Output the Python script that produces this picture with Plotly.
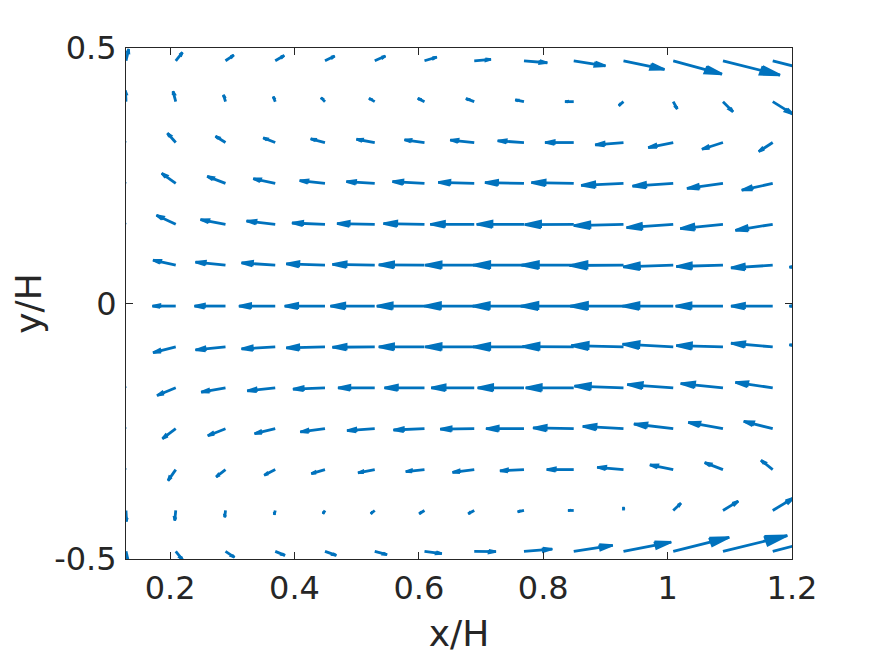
import plotly.graph_objects as go

# grid of the vector field (x/H columns, y/H rows from top to bottom)
x_cols = [0.129, 0.209, 0.289, 0.369, 0.449, 0.529, 0.609, 0.689,
          0.769, 0.849, 0.929, 1.009, 1.089, 1.169, 1.249]
y_rows = [0.475, 0.395, 0.315, 0.235, 0.155, 0.075, -0.005,
          -0.085, -0.165, -0.245, -0.325, -0.405, -0.485]

# horizontal velocity component, one list per row (top -> bottom)
U = [
    [2.7, 6.7, 8.3, 9.0, 9.7, 10.7, 12.3, 16.7, 23.3, 31.7, 41.0, 48.7, 57.0, 58.0, 55.0],
    [-0.5, -2.7, -2.0, -2.0, -4.0, -5.7, -6.7, -8.3, -8.7, -8.7, -4.7, 4.0, 10.0, 20.0, 20.0],
    [-1.0, -8.3, -10.0, -12.0, -14.3, -18.3, -20.0, -24.0, -26.3, -28.7, -28.3, -25.0, -21.0, -14.0, -5.0],
    [-1.0, -14.0, -18.3, -22.0, -25.3, -28.3, -32.0, -36.0, -39.0, -42.3, -42.3, -40.7, -36.0, -31.0, -25.0],
    [-1.0, -19.3, -25.0, -28.7, -33.0, -37.7, -41.0, -44.0, -47.3, -49.0, -49.7, -46.7, -42.7, -37.3, -29.0],
    [0.0, -22.7, -30.0, -33.7, -38.7, -42.3, -45.7, -49.0, -50.7, -52.3, -54.0, -50.0, -46.7, -41.7, -33.0],
    [0.0, -23.3, -31.0, -36.3, -40.3, -44.3, -47.7, -50.0, -51.3, -53.0, -53.3, -50.7, -47.3, -41.7, -33.0],
    [0.0, -22.7, -30.0, -33.7, -38.7, -42.3, -45.7, -49.0, -50.7, -51.3, -52.3, -50.7, -46.7, -41.7, -33.0],
    [-1.0, -18.7, -24.3, -28.0, -32.0, -36.7, -40.0, -43.0, -46.3, -48.0, -49.0, -46.0, -42.3, -37.3, -29.0],
    [-1.0, -13.3, -17.7, -20.7, -24.7, -27.7, -31.0, -34.0, -38.0, -40.7, -40.7, -39.3, -34.7, -29.0, -25.0],
    [-1.0, -7.7, -9.3, -11.0, -13.7, -16.7, -18.7, -21.7, -24.0, -27.0, -26.3, -23.3, -18.3, -11.7, -5.0],
    [0.5, -1.0, -0.7, -1.0, -2.0, -4.0, -5.3, -6.0, -6.3, -5.7, 0.0, 7.7, 15.3, 21.0, 20.0],
    [2.7, 6.7, 9.0, 9.7, 11.3, 12.3, 17.3, 21.7, 28.3, 39.0, 47.7, 56.0, 64.3, 62.0, 55.0],
]

# vertical velocity component, one list per row (top -> bottom)
V = [
    [14.2, 10.1, 6.9, 6.5, 5.7, 5.7, 4.5, 1.6, -2.4, -6.1, -10.6, -16.2, -17.4, -18.3, -17.0],
    [13.4, 12.5, 8.2, 6.1, 4.9, 4.0, 4.0, 3.7, 2.1, 0.0, -4.9, -8.9, -12.2, -15.0, -14.6],
    [0.0, 11.3, 7.7, 5.7, 4.5, 4.0, 3.3, 3.0, 2.1, 0.0, -2.8, -6.1, -8.2, -11.0, -9.7],
    [0.0, 12.2, 8.5, 5.7, 3.3, 2.1, 2.1, 1.2, 0.9, 0.9, -2.4, -3.3, -6.1, -8.2, -6.1],
    [0.0, 11.0, 5.7, 4.0, 1.6, 0.9, 0.9, 0.0, 0.0, -0.4, -1.6, -4.0, -5.2, -7.3, -4.9],
    [0.0, 6.1, 3.7, 2.8, 1.6, 0.9, 0.4, 0.0, 0.0, 0.0, -0.4, -2.1, -1.6, -3.3, -2.4],
    [0.0, 0.0, 0.0, 0.0, 0.0, 0.0, 0.0, 0.0, 0.0, 0.0, 0.0, 0.0, 0.0, 0.0, 0.0],
    [0.0, -6.9, -3.7, -2.4, -1.2, -0.4, 0.0, 0.0, 0.0, 0.4, 1.6, 3.3, 1.6, 4.5, 2.4],
    [0.0, -9.4, -5.2, -3.7, -1.6, 0.0, 0.0, 0.0, 0.0, 0.0, 2.1, 4.0, 5.2, 6.5, 4.9],
    [0.0, -12.2, -8.5, -6.1, -4.0, -2.4, -1.6, -0.6, 0.0, 0.9, 2.8, 5.7, 7.7, 8.9, 6.1],
    [0.0, -13.4, -8.9, -6.9, -4.9, -4.0, -2.4, -3.3, -1.6, 0.0, 2.8, 5.7, 8.5, 11.3, 9.7],
    [-13.4, -12.2, -8.2, -5.2, -4.0, -4.0, -4.0, -4.0, -1.6, 0.0, 4.0, 8.9, 11.3, 15.2, 14.6],
    [-14.2, -10.1, -7.3, -4.9, -4.9, -4.0, -2.8, -0.4, 2.8, 7.3, 11.3, 17.0, 19.1, 19.5, 17.0],
]

x_ticks = [0.2, 0.4, 0.6, 0.8, 1.0, 1.2]
x_tick_text = ["0.2", "0.4", "0.6", "0.8", "1", "1.2"]
y_ticks = [-0.5, 0, 0.5]
y_tick_text = ["-0.5", "0", "0.5"]

scale = 1 / 621.7      # quiver scaling of the velocity
alpha, beta = 0.33, 0.27  # matlab style arrow head

shaft_x, shaft_y = [], []
head_x, head_y = [], []
for j, y0 in enumerate(y_rows):
    for i, x0 in enumerate(x_cols):
        u = U[j][i] * scale
        v = V[j][i] * scale
        x1, y1 = x0 + u, y0 + v
        shaft_x += [x0, x1, None]
        shaft_y += [y0, y1, None]
        hx = [x1 - alpha * (u + beta * v), x1, x1 - alpha * (u - beta * v)]
        hy = [y1 - alpha * (v - beta * u), y1, y1 - alpha * (v + beta * u)]
        head_x += hx + [hx[0], None]
        head_y += hy + [hy[0], None]

blue = "#0072BD"
fig = go.Figure()
fig.add_trace(go.Scatter(x=shaft_x, y=shaft_y, mode="lines",
                         line=dict(color=blue, width=2.8, simplify=False),
                         hoverinfo="skip", showlegend=False))
fig.add_trace(go.Scatter(x=head_x, y=head_y, mode="lines", fill="toself",
                         fillcolor=blue,
                         line=dict(color=blue, width=2.2, simplify=False),
                         hoverinfo="skip", showlegend=False))

font = dict(family="DejaVu Sans", size=32, color="#262626")
label_font = dict(family="DejaVu Sans", size=36, color="#262626")
axis = dict(showline=True, linecolor="#262626", linewidth=1, mirror="ticks",
            ticks="inside", ticklen=7, tickcolor="#262626", tickwidth=1,
            showgrid=False, zeroline=False, tickfont=font, automargin=False)

# the page body adds an 8px offset, so the figure is a bit smaller than the window
fig.update_layout(
    width=867, height=648,
    margin=dict(l=118, r=83, t=40, b=97),
    plot_bgcolor="white", paper_bgcolor="white",
    xaxis=dict(range=[0.129, 1.2], tickvals=x_ticks, ticktext=x_tick_text,
               ticklabelstandoff=1,
               title=dict(text="x/H", font=label_font, standoff=14), **axis),
    yaxis=dict(range=[-0.5, 0.5], tickvals=y_ticks, ticktext=y_tick_text,
               ticklabelstandoff=2,
               title=dict(text="y/H", font=label_font, standoff=14), **axis),
)

fig.write_html("out.html")
